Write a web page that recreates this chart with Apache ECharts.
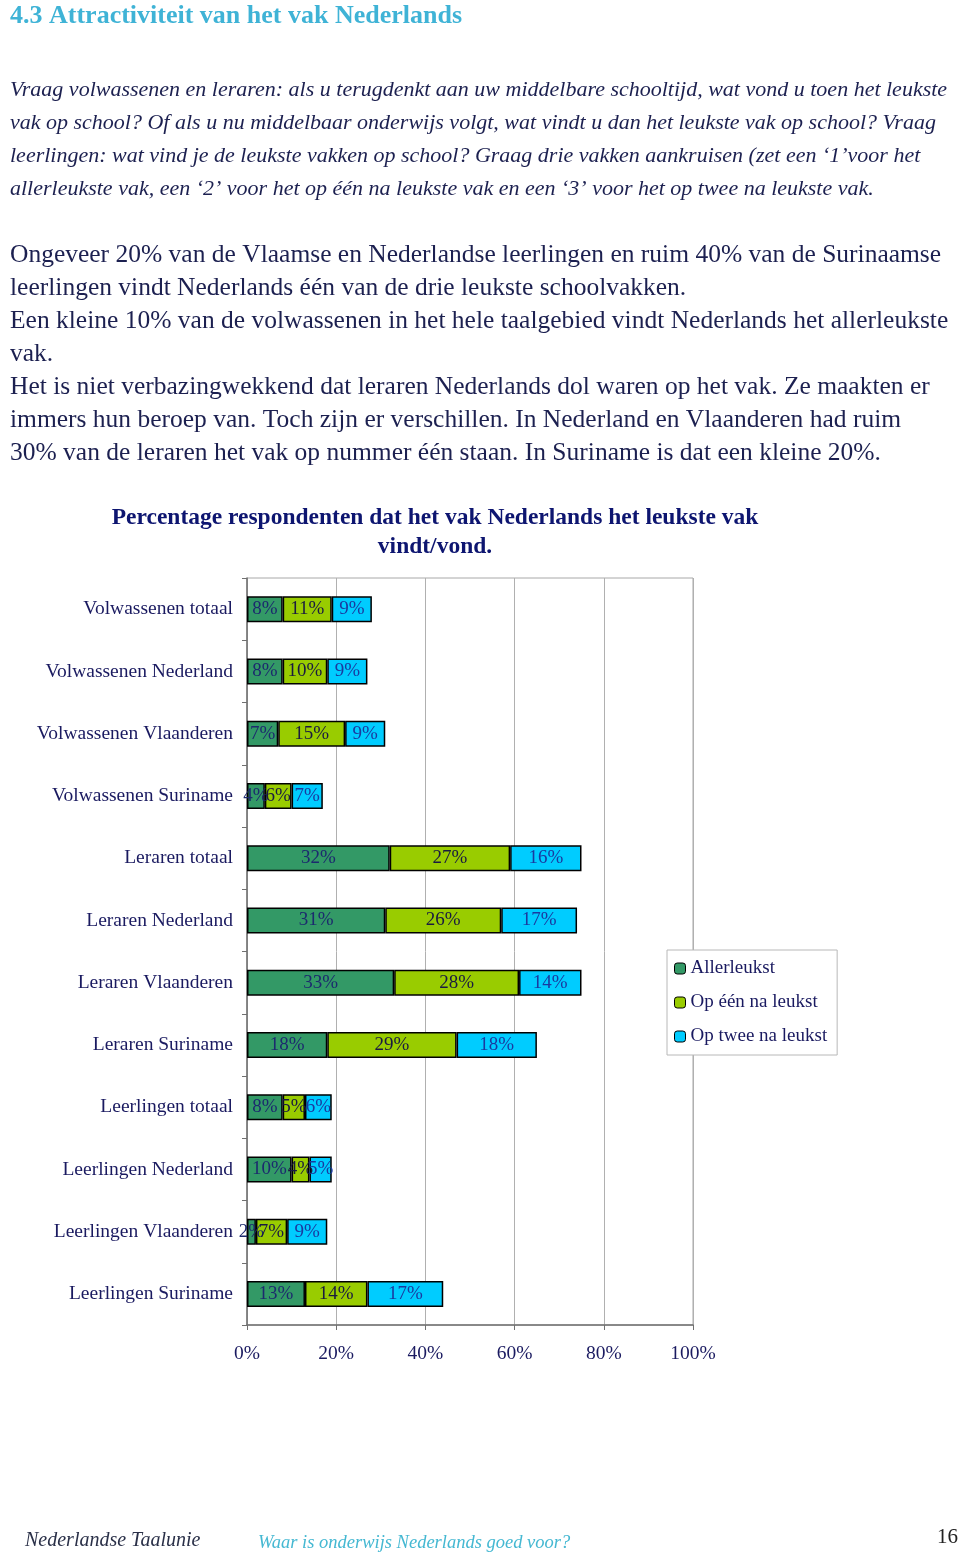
<!DOCTYPE html>
<html>
<head>
<meta charset="utf-8">
<script src="https://cdn.jsdelivr.net/npm/echarts@6/dist/echarts.min.js"></script>
<style>
html,body{margin:0;padding:0;background:#fff;}
#c{width:960px;height:1557px;}
</style>
</head>
<body>
<div id="c"></div>
<script>
var categories = [
  'Volwassenen totaal','Volwassenen Nederland','Volwassenen Vlaanderen','Volwassenen Suriname',
  'Leraren totaal','Leraren Nederland','Leraren Vlaanderen','Leraren Suriname',
  'Leerlingen totaal','Leerlingen Nederland','Leerlingen Vlaanderen','Leerlingen Suriname'
];
var seriesNames = ['Allerleukst','Op één na leukst','Op twee na leukst'];
var allerleukst   = [8, 8, 7, 4, 32, 31, 33, 18, 8, 10, 2, 13];
var opEenNaLeukst = [11, 10, 15, 6, 27, 26, 28, 29, 5, 4, 7, 14];
var opTweeNaLeukst= [9, 9, 9, 7, 16, 17, 14, 18, 6, 5, 9, 17];
var xTicks = [0, 20, 40, 60, 80, 100];

var heading = '4.3 Attractiviteit van het vak Nederlands';
var italicLines = [
  'Vraag volwassenen en leraren: als u terugdenkt aan uw middelbare schooltijd, wat vond u toen het leukste',
  'vak op school? Of als u nu middelbaar onderwijs volgt, wat vindt u dan het leukste vak op school? Vraag',
  'leerlingen: wat vind je de leukste vakken op school? Graag drie vakken aankruisen (zet een \u20181\u2019voor het',
  'allerleukste vak, een \u20182\u2019 voor het op één na leukste vak en een \u20183\u2019 voor het op twee na leukste vak.'
];
var bodyLines = [
  'Ongeveer 20% van de Vlaamse en Nederlandse leerlingen en ruim 40% van de Surinaamse',
  'leerlingen vindt Nederlands één van de drie leukste schoolvakken.',
  'Een kleine 10% van de volwassenen in het hele taalgebied vindt Nederlands het allerleukste',
  'vak.',
  'Het is niet verbazingwekkend dat leraren Nederlands dol waren op het vak. Ze maakten er',
  'immers hun beroep van. Toch zijn er verschillen. In Nederland en Vlaanderen had ruim',
  '30% van de leraren het vak op nummer één staan. In Suriname is dat een kleine 20%.'
];
var chartTitleLines = ['Percentage respondenten dat het vak Nederlands het leukste vak', 'vindt/vond.'];

var SERIF = '"Liberation Serif","DejaVu Serif",serif';
var chart = echarts.init(document.getElementById('c'), null, {renderer:'canvas'});

var graphics = [];
graphics.push({type:'text', x:10, y:16, style:{text:heading, font:'bold 26px '+SERIF, fill:'#3fb3d6', textVerticalAlign:'middle'}});
italicLines.forEach(function(t,i){
  graphics.push({type:'text', x:10, y:90+i*33, style:{text:t, font:'italic 22px '+SERIF, fill:'#1c2050', textVerticalAlign:'middle'}});
});
bodyLines.forEach(function(t,i){
  graphics.push({type:'text', x:10, y:255+i*33, style:{text:t, font:'25.5px '+SERIF, fill:'#1c2050', textVerticalAlign:'middle'}});
});
chartTitleLines.forEach(function(t,i){
  graphics.push({type:'text', x:435, y:518+i*29, style:{text:t, font:'bold 23.5px '+SERIF, fill:'#0d1570', textAlign:'center', textVerticalAlign:'middle'}});
});
graphics.push({type:'text', x:25, y:1541, style:{text:'Nederlandse Taalunie', font:'italic 20px '+SERIF, fill:'#2a3048', textVerticalAlign:'middle'}});
graphics.push({type:'text', x:258, y:1543, style:{text:'Waar is onderwijs Nederlands goed voor?', font:'italic 18.5px '+SERIF, fill:'#45b8d2', textVerticalAlign:'middle'}});
graphics.push({type:'text', x:958, y:1537, style:{text:'16', font:'21px '+SERIF, fill:'#222', textAlign:'right', textVerticalAlign:'middle'}});

var colors = ['#339966', '#99cc00', '#00ccff'];
var labelColors = ['#1c2a6e', '#1a1a40', '#1a3aa0'];
var datas = [allerleukst, opEenNaLeukst, opTweeNaLeukst];

var series = seriesNames.map(function(n, i){
  return {
    name: n, type: 'bar', stack: 'total', barWidth: 26,
    data: datas[i],
    itemStyle: {color: colors[i], borderColor: '#000', borderWidth: 1.5},
    label: {show: true, position: 'inside', formatter: '{c}%', fontFamily: SERIF, fontSize: 19, color: labelColors[i]},
    emphasis: {disabled: true},
    animation: false
  };
});

chart.setOption({
  animation: false,
  color: colors,
  textStyle: {fontFamily: SERIF},
  graphic: graphics,
  legend: {
    orient: 'vertical', left: 667, top: 950,
    data: seriesNames,
    backgroundColor: '#fff', borderColor: '#b8b8b8', borderWidth: 1,
    padding: [8, 10, 8, 7],
    itemWidth: 11, itemHeight: 11, itemGap: 13,
    itemStyle: {borderColor: '#000', borderWidth: 1},
    textStyle: {fontFamily: SERIF, fontSize: 19, color: '#1a1a60', lineHeight: 21}
  },
  grid: {left: 247, right: 267, top: 578, bottom: 232, show: true, borderColor: '#a8a8a8', borderWidth: 1},
  xAxis: {
    type: 'value', min: 0, max: 100, interval: 20,
    axisLine: {show: true, lineStyle: {color: '#707070', width: 1.5}},
    axisTick: {show: true, length: 5, lineStyle: {color: '#707070'}},
    splitLine: {show: true, lineStyle: {color: '#b0b0b0', width: 1}},
    axisLabel: {formatter: function(v){return v + '%';}, fontFamily: SERIF, fontSize: 19.5, color: '#1a1a60', margin: 19}
  },
  yAxis: {
    type: 'category', inverse: true, data: categories,
    axisLine: {show: true, lineStyle: {color: '#707070', width: 1.5}},
    axisTick: {show: true, length: 5, lineStyle: {color: '#707070'}},
    axisLabel: {fontFamily: SERIF, fontSize: 19.5, color: '#1a1a60', margin: 14}
  },
  series: series
});
</script>
</body>
</html>
